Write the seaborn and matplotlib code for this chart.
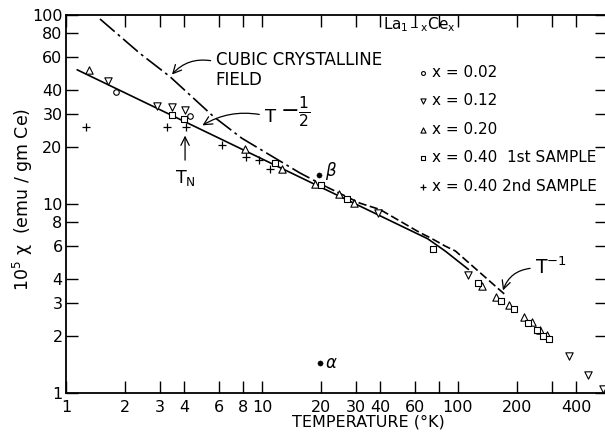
import matplotlib
matplotlib.use('Agg')
import matplotlib.pyplot as plt
import seaborn as sns
from matplotlib.ticker import FixedLocator, FixedFormatter, NullLocator

# susceptibility of La(1-x)Ce(x)
# T in K, chi in 1e-5 emu/gm Ce
t_002 = [1.79, 4.29]
chi_002 = [39.2, 29.3]

t_012 = [1.63, 2.90, 3.47, 4.05, 39.2, 113, 370, 462, 551]
chi_012 = [45.0, 33.2, 32.6, 31.3, 9.0, 4.21, 1.56, 1.25, 1.05]

t_020 = [1.31, 8.19, 12.6, 18.6, 24.8, 29.6, 132, 156, 181, 218, 238, 262, 285]
chi_020 = [51.3, 19.6, 15.3, 12.8, 11.3, 10.1, 3.68, 3.24, 2.92, 2.51, 2.37, 2.16, 2.02]

t_040a = [3.47, 4.02, 11.7, 20.1, 27.0, 74.8, 127, 166, 192, 228, 252, 272, 292]
chi_040a = [29.4, 28.3, 16.4, 12.6, 10.6, 5.75, 3.84, 3.05, 2.78, 2.34, 2.16, 2.0, 1.93]

t_040b = [1.26, 3.28, 4.1, 6.23, 8.25, 9.69, 11.0]
chi_040b = [25.4, 25.4, 25.6, 20.4, 17.7, 17.0, 15.3]

# the two single points
t_alpha = [19.8]
chi_alpha = [1.45]
t_beta = [19.6]
chi_beta = [14.3]

# T^-1/2 line (solid), bends down above ~70 K
t_half = [1.14, 70, 86, 113]
chi_half = [51.3, 6.55, 5.64, 4.51]

# cubic crystalline field curve
t_ccf = [1.49, 2.38, 3.39, 5.64, 7.88, 15.6, 21.4, 31.6, 40, 64, 72, 86, 97, 177]
chi_ccf = [95.3, 62.7, 47.2, 29.1, 22.3, 14.6, 12.3, 10.1, 9.35, 7.05, 6.64, 5.99, 5.64, 3.26]
ccf_split = 6  # dash-dot below this index, dashed after

x_ticks = [1, 2, 3, 4, 6, 8, 10, 20, 30, 40, 60, 80, 100, 200, 300, 400]
x_labels = ['1', '2', '3', '4', '6', '8', '10', '20', '30', '40', '60', '', '100', '200', '', '400']
y_ticks = [1, 2, 3, 4, 6, 8, 10, 20, 30, 40, 60, 80, 100]
y_labels = ['1', '2', '3', '4', '6', '8', '10', '20', '30', '40', '60', '80', '100']

legend_labels = ['x = 0.02', 'x = 0.12', 'x = 0.20', 'x = 0.40  1st SAMPLE', 'x = 0.40 2nd SAMPLE']

sns.set_theme(style='ticks')
plt.rcParams['font.family'] = ['DejaVu Sans']
plt.rcParams['lines.scale_dashes'] = False
plt.rcParams['text.color'] = 'black'
plt.rcParams['axes.labelcolor'] = 'black'

fig = plt.figure(figsize=(6.05, 4.34), dpi=100)
ax = fig.add_axes([66 / 605, 41 / 434, 541 / 605, 378 / 434])
ax.set_xscale('log')
ax.set_yscale('log')
ax.set_xlim(1, 10 ** (541 / 196))
ax.set_ylim(1, 100)

# curves
sns.lineplot(x=t_half, y=chi_half, color='black', lw=1.2, sort=False, estimator=None, ax=ax)
sns.lineplot(x=t_ccf[:ccf_split + 1], y=chi_ccf[:ccf_split + 1], color='black', lw=1.2,
             sort=False, estimator=None, ax=ax)
ax.lines[-1].set_dashes((14, 3, 2, 3))
sns.lineplot(x=t_ccf[ccf_split:], y=chi_ccf[ccf_split:], color='black', lw=1.2,
             sort=False, estimator=None, ax=ax)
ax.lines[-1].set_dashes((6, 2.5))

# data points
series = [
    (t_002, chi_002, 'o', 16),
    (t_012, chi_012, 'v', 28),
    (t_020, chi_020, '^', 28),
    (t_040a, chi_040a, 's', 16),
]
for (t, c, m, s), lab in zip(series, legend_labels[:4]):
    sns.scatterplot(x=t, y=c, marker=m, s=s, facecolor='white', edgecolor='black',
                    linewidth=0.8, label=lab, ax=ax, zorder=3)
sns.scatterplot(x=t_040b, y=chi_040b, marker='+', s=30, color='black', linewidth=0.9,
                label=legend_labels[4], ax=ax, zorder=3)
sns.scatterplot(x=t_alpha + t_beta, y=chi_alpha + chi_beta, marker='o', s=14, color='black',
                edgecolor='black', ax=ax, zorder=3)

# annotations
arrow = dict(arrowstyle='->,head_length=0.5,head_width=0.25', color='black', lw=0.9)
ax.text(5.8, 51, 'CUBIC CRYSTALLINE\nFIELD', ha='left', va='center', fontsize=12, linespacing=1.15)
ax.annotate('', xy=(3.4, 47.2), xytext=(5.65, 57),
            arrowprops=dict(arrow, connectionstyle='arc3,rad=0.3'))

ax.text(11.0, 28.9, 'T', ha='center', va='center', fontsize=13)
ax.text(12.3, 31.0, r'$-\frac{\mathregular{1}}{\mathregular{2}}$', ha='left', va='center', fontsize=16)
ax.annotate('', xy=(4.83, 25.6), xytext=(10.0, 29.6),
            arrowprops=dict(arrow, connectionstyle='arc3,rad=0.2'))

ax.text(4.05, 13.7, r'T$_\mathregular{N}$', ha='center', va='center', fontsize=12.5)
ax.annotate('', xy=(4.05, 23.8), xytext=(4.05, 16.5), arrowprops=arrow)

ax.text(247, 4.6, r'T$^{\mathregular{-1}}$', ha='left', va='center', fontsize=13.5)
ax.annotate('', xy=(168, 3.38), xytext=(241, 4.58),
            arrowprops=dict(arrow, connectionstyle='arc3,rad=0.35'))

ax.text(20.9, 15.0, r'$\beta$', ha='left', va='center', fontsize=12)
ax.text(21.0, 1.44, r'$\alpha$', ha='left', va='center', fontsize=12)
ax.text(41.4, 88.5, r'La$_{\mathregular{1-x}}$Ce$_\mathregular{x}$', ha='left', va='center', fontsize=11)

# axes styling
ax.xaxis.set_major_locator(FixedLocator(x_ticks))
ax.xaxis.set_major_formatter(FixedFormatter(x_labels))
ax.xaxis.set_minor_locator(NullLocator())
ax.yaxis.set_major_locator(FixedLocator(y_ticks))
ax.yaxis.set_major_formatter(FixedFormatter(y_labels))
ax.yaxis.set_minor_locator(NullLocator())
ax.tick_params(which='both', direction='in', top=True, right=True, length=8.5, width=1.0,
               labelsize=11.5, color='black', labelcolor='black')
ax.tick_params(axis='x', pad=5)
ax.tick_params(axis='y', pad=2.5)
for sp in ax.spines.values():
    sp.set_linewidth(1.3)
    sp.set_color('black')

ax.set_xlabel('TEMPERATURE (°K)', fontsize=11.5)
ax.xaxis.set_label_coords((368 - 66) / 541, -0.058)
ax.set_ylabel(r'10$^\mathregular{5}$ χ  (emu / gm Ce)', fontsize=12.5)
ax.yaxis.set_label_coords(-0.058, 0.513)

ax.legend(loc='upper left', bbox_to_anchor=(418 / 605, 1 - 65 / 434), bbox_transform=fig.transFigure,
          frameon=False, handlelength=0.6, handletextpad=0.3, labelspacing=0.88, borderpad=0,
          borderaxespad=0, fontsize=11, markerscale=0.7)

fig.savefig('out.png', dpi=100)
